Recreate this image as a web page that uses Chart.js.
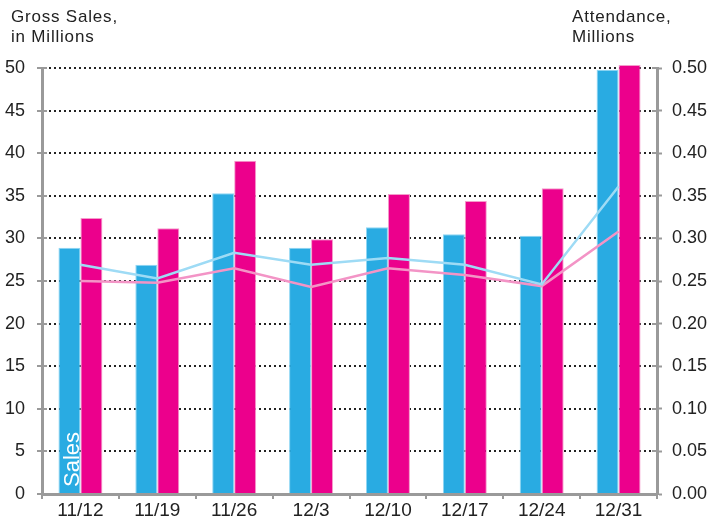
<!DOCTYPE html>
<html>
<head>
<meta charset="utf-8">
<script src="https://cdn.jsdelivr.net/npm/chart.js@4/dist/chart.umd.min.js"></script>
<style>
  html, body { margin: 0; padding: 0; background: #fff; }
  #wrap { position: relative; width: 712px; height: 518px; }
  canvas { position: absolute; left: 0; top: 0; }
  .ttl { position: absolute; font-family: "Liberation Sans", Arial, sans-serif; font-size: 17px; line-height: 20px; letter-spacing: 0.8px; color: #222; white-space: nowrap; }
</style>
</head>
<body>
<div id="wrap">
  <canvas id="c" width="712" height="518"></canvas>
  <div class="ttl" style="left:11px; top:7px;">Gross Sales,<br>in Millions</div>
  <div class="ttl" style="left:572px; top:7px;">Attendance,<br>Millions</div>
</div>
<script>
const categories = ["11/12", "11/19", "11/26", "12/3", "12/10", "12/17", "12/24", "12/31"];
const salesBlue = [28.9, 26.9, 35.3, 28.9, 31.3, 30.5, 30.3, 49.8];
const salesPink = [32.4, 31.2, 39.1, 29.9, 35.2, 34.4, 35.9, 50.35];
const attendanceBlue = [0.269, 0.253, 0.283, 0.269, 0.277, 0.269, 0.246, 0.361];
const attendancePink = [0.250, 0.248, 0.265, 0.243, 0.265, 0.257, 0.244, 0.308];
const salesTicks = [0, 5, 10, 15, 20, 25, 30, 35, 40, 45, 50];
const attendanceTicks = [0, 0.05, 0.10, 0.15, 0.20, 0.25, 0.30, 0.35, 0.40, 0.45, 0.50];

const FONT = "'Liberation Sans', Arial, sans-serif";
const AXIS_GRAY = '#9a9a9a';

const extras = {
  id: 'extras',
  afterDatasetsDraw(chart) {
    const ctx = chart.ctx;
    const y = chart.scales.y, y1 = chart.scales.y1;
    const area = chart.chartArea;
    ctx.save();
    ctx.strokeStyle = AXIS_GRAY;
    ctx.lineWidth = 2;
    salesTicks.forEach(v => {
      const py = Math.round(y.getPixelForValue(v));
      ctx.beginPath(); ctx.moveTo(area.left, py); ctx.lineTo(area.left + 5, py); ctx.stroke();
    });
    attendanceTicks.forEach(v => {
      const py = Math.round(y1.getPixelForValue(v));
      ctx.beginPath(); ctx.moveTo(area.right - 5, py); ctx.lineTo(area.right, py); ctx.stroke();
    });
    const bar = chart.getDatasetMeta(0).data[0];
    if (bar) {
      ctx.fillStyle = '#ffffff';
      ctx.font = '22px ' + FONT;
      ctx.textAlign = 'left';
      ctx.textBaseline = 'alphabetic';
      ctx.translate(bar.x + bar.width / 2 - 1, bar.base - 6);
      ctx.rotate(-Math.PI / 2);
      ctx.fillText('Sales', 0, 0);
    }
    ctx.restore();
  }
};

new Chart(document.getElementById('c'), {
  data: {
    labels: categories,
    datasets: [
      { type: 'bar', data: salesBlue, yAxisID: 'y', backgroundColor: '#29abe2', borderColor: '#8fd6f4', borderWidth: 1, order: 2, categoryPercentage: 0.572, barPercentage: 1, clip: false },
      { type: 'bar', data: salesPink, yAxisID: 'y', backgroundColor: '#ec008c', borderColor: '#f59ccb', borderWidth: 1, order: 2, categoryPercentage: 0.572, barPercentage: 1, clip: false },
      { type: 'line', data: attendanceBlue, yAxisID: 'y1', borderColor: '#9edbf5', borderWidth: 2.5, pointRadius: 0, tension: 0, order: 0 },
      { type: 'line', data: attendancePink, yAxisID: 'y1', borderColor: '#f394c6', borderWidth: 2.5, pointRadius: 0, tension: 0, order: 0 }
    ]
  },
  options: {
    responsive: false,
    animation: false,
    devicePixelRatio: 1,
    layout: { padding: { top: 68, left: 0, right: 0, bottom: 0 } },
    plugins: { legend: { display: false }, tooltip: { enabled: false }, title: { display: false } },
    scales: {
      x: {
        offset: true,
        grid: { display: true, drawOnChartArea: false, offset: true, color: AXIS_GRAY, tickColor: AXIS_GRAY, tickLength: 5, lineWidth: 2 },
        border: { color: AXIS_GRAY, width: 3 },
        ticks: { color: '#222', font: { family: FONT, size: 19 }, padding: 0, maxRotation: 0, autoSkip: false },
        afterFit(s) { s.height = 24; }
      },
      y: {
        position: 'left',
        min: 0, max: 50,
        afterBuildTicks(s) { s.ticks = salesTicks.map(v => ({ value: v })); },
        grid: { color: '#222', lineWidth: 2, tickColor: AXIS_GRAY, tickBorderDash: [], tickLength: 5, tickWidth: 2, drawTicks: true },
        border: { color: AXIS_GRAY, width: 3, dash: [2, 3] },
        ticks: { color: '#222', font: { family: FONT, size: 18 }, padding: 12, callback: v => String(v) },
        afterFit(s) { s.width = 42; }
      },
      y1: {
        position: 'right',
        min: 0, max: 0.5,
        afterBuildTicks(s) { s.ticks = attendanceTicks.map(v => ({ value: v })); },
        grid: { drawOnChartArea: false, tickColor: AXIS_GRAY, tickLength: 5, tickWidth: 2 },
        border: { color: AXIS_GRAY, width: 3 },
        ticks: { color: '#222', font: { family: FONT, size: 18 }, padding: 10, callback: v => Number(v).toFixed(2) },
        afterFit(s) { s.width = 55; }
      }
    }
  },
  plugins: [extras]
});
</script>
</body>
</html>
